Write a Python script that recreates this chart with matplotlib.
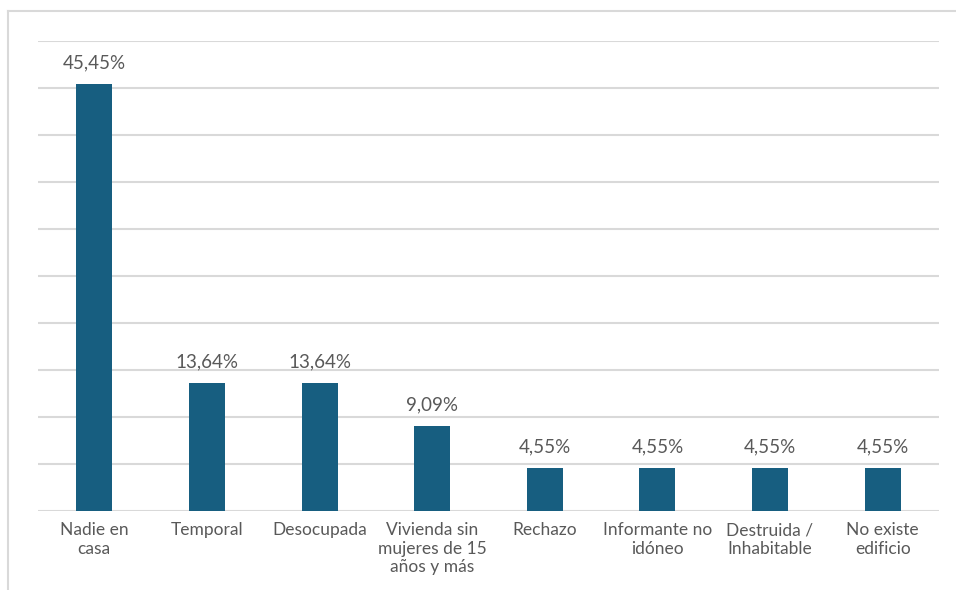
import matplotlib
matplotlib.use("Agg")
import matplotlib.pyplot as plt
from matplotlib.lines import Line2D

categories = ["Nadie en\ncasa", "Temporal", "Desocupada", "Vivienda sin\nmujeres de 15\naños y más",
              "Rechazo", "Informante no\nidóneo", "Destruida /\nInhabitable", "No existe\nedificio"]
values = [45.45, 13.64, 13.64, 9.09, 4.55, 4.55, 4.55, 4.55]

plt.rcParams['font.family'] = ['Lato', 'DejaVu Sans']
text_color = "#595959"
bar_color = "#175e80"
grid_color = "#d9d9d9"

fig = plt.figure(figsize=(9.56, 5.90), dpi=100)
ax = fig.add_axes([38/956, 1-511/590, (939-38)/956, (511-41)/590])

x = list(range(len(categories)))
bars = ax.bar(x, values, width=0.32, color=bar_color, zorder=3)
for xi, v in zip(x, values):
    ax.annotate(f"{v:.2f}%".replace(".", ","), (xi, v), xytext=(0, 9), textcoords="offset points",
                ha="center", va="bottom", fontsize=13.5, color=text_color)

ax.set_xlim(-0.5, len(categories) - 0.5)
ax.set_ylim(0, 50)
ax.set_yticks(range(0, 51, 5))
ax.yaxis.grid(True, color=grid_color, linewidth=1.5, zorder=0)
ax.tick_params(axis="y", left=False, labelleft=False)
ax.tick_params(axis="x", length=0, pad=8, labelsize=12.5, labelcolor=text_color)
ax.set_xticks(x)
ax.set_xticklabels(categories, linespacing=1.2)
for s in ax.spines.values():
    s.set_visible(False)

# outer frame (top and left edges visible)
fig.add_artist(Line2D([8/956, 8/956], [0, 1-11/590], transform=fig.transFigure, color=grid_color, linewidth=1.5))
fig.add_artist(Line2D([8/956, 1], [1-11/590, 1-11/590], transform=fig.transFigure, color=grid_color, linewidth=1.5))

fig.savefig("out.png", dpi=100)
